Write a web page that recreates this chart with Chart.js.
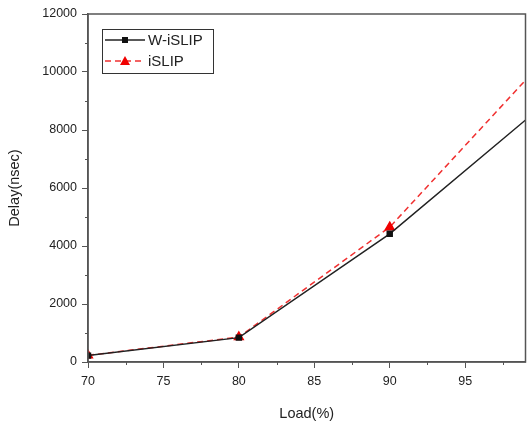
<!DOCTYPE html>
<html>
<head>
<meta charset="utf-8">
<script src="https://cdn.jsdelivr.net/npm/chart.js@4/dist/chart.umd.min.js"></script>
<style>
    html, body { margin: 0; padding: 0; background: #fff; }
    #wrap { width: 532px; height: 437px; }
</style>
</head>
<body>
<div id="wrap"><canvas id="chart" width="532" height="437"></canvas></div>
<script>
// load points (last one lies past the axis end and gets clipped)
var loads = [70, 80, 90, 100];
var wislipDelay = [220, 840, 4420, 8780];
var islipDelay = [230, 860, 4650, 10280];

var xTicks = [70, 75, 80, 85, 90, 95];
var xMinor = [72.5, 77.5, 82.5, 87.5, 92.5, 97.5];
var yTicks = [0, 2000, 4000, 6000, 8000, 10000, 12000];
var yMinor = [1000, 3000, 5000, 7000, 9000, 11000];

var axisColor = '#555';
var textColor = '#222';
var fontFam = '"Liberation Sans", Arial, sans-serif';

function toXY(xs, ys) {
    return xs.map(function (x, i) { return { x: x, y: ys[i] }; });
}

// box around the plot + small minor ticks
const framePlugin = {
    id: 'frame',
    afterDraw: function (chart) {
        const ctx = chart.ctx;
        const a = chart.chartArea;
        const xs = chart.scales.x, ys = chart.scales.y;
        ctx.save();
        ctx.strokeStyle = axisColor;
        ctx.lineWidth = 1.5;
        ctx.strokeRect(a.left, a.top, a.right - a.left, a.bottom - a.top);
        ctx.lineWidth = 1;
        ctx.beginPath();
        xMinor.forEach(function (v) {
            const px = Math.round(xs.getPixelForValue(v)) + 0.5;
            ctx.moveTo(px, a.bottom);
            ctx.lineTo(px, a.bottom + 3);
        });
        yMinor.forEach(function (v) {
            const py = Math.round(ys.getPixelForValue(v)) + 0.5;
            ctx.moveTo(a.left, py);
            ctx.lineTo(a.left - 3, py);
        });
        ctx.stroke();
        ctx.restore();
    }
};

// legend box like the original (line + marker sample)
const legendBox = {
    id: 'legendBox',
    afterDraw: function (chart) {
        const ctx = chart.ctx;
        ctx.save();
        ctx.strokeStyle = '#333';
        ctx.lineWidth = 1;
        ctx.strokeRect(102.5, 29.5, 111, 44);
        ctx.font = '15px ' + fontFam;
        ctx.textBaseline = 'middle';
        ctx.fillStyle = textColor;
        chart.data.datasets.forEach(function (ds, i) {
            const cy = 40 + i * 21;
            ctx.strokeStyle = ds.borderColor;
            ctx.lineWidth = ds.borderWidth;
            ctx.setLineDash(ds.borderDash || []);
            ctx.beginPath();
            ctx.moveTo(105, cy);
            ctx.lineTo(145, cy);
            ctx.stroke();
            ctx.setLineDash([]);
            ctx.fillStyle = ds.pointBackgroundColor;
            if (ds.pointStyle === 'rect') {
                ctx.fillRect(122, cy - 3, 6, 6);
            } else {
                ctx.beginPath();
                ctx.moveTo(125, cy - 5);
                ctx.lineTo(130, cy + 4);
                ctx.lineTo(120, cy + 4);
                ctx.closePath();
                ctx.fill();
            }
            ctx.fillStyle = textColor;
            ctx.fillText(ds.label, 148, cy + 1);
        });
        ctx.restore();
    }
};

const ctx = document.getElementById('chart').getContext('2d');
const chart = new Chart(ctx, {
    type: 'line',
    data: {
        datasets: [{
            label: 'W-iSLIP',
            data: toXY(loads, wislipDelay),
            borderColor: '#222',
            borderWidth: 1.5,
            pointStyle: 'rect',
            pointRadius: 3.5,
            pointBackgroundColor: '#111',
            pointBorderColor: '#111',
            tension: 0
        }, {
            label: 'iSLIP',
            data: toXY(loads, islipDelay),
            borderColor: '#f03030',
            borderWidth: 1.5,
            borderDash: [6, 4],
            pointStyle: 'triangle',
            pointRadius: 5,
            pointBackgroundColor: '#f00000',
            pointBorderColor: '#f00000',
            tension: 0
        }]
    },
    options: {
        responsive: false,
        animation: false,
        layout: { padding: { left: 0, right: 4, top: 14, bottom: 0 } },
        plugins: {
            legend: { display: false },
            tooltip: { enabled: false }
        },
        scales: {
            x: {
                type: 'linear',
                min: 70,
                max: 99,
                afterBuildTicks: function (scale) {
                    scale.ticks = xTicks.map(function (v) { return { value: v }; });
                },
                afterFit: function (scale) { scale.height = 75; },
                border: { display: true, color: axisColor, width: 1.5 },
                grid: { drawOnChartArea: false, tickLength: 6, color: axisColor, lineWidth: 1 },
                ticks: {
                    maxRotation: 0,
                    autoSkip: false,
                    padding: 6,
                    color: textColor,
                    font: { family: fontFam, size: 12.5 },
                    callback: function (v) { return String(v); }
                },
                title: {
                    display: true,
                    text: 'Load(%)',
                    color: textColor,
                    padding: { top: 0, bottom: 14 },
                    font: { family: fontFam, size: 14.5 }
                }
            },
            y: {
                min: 0,
                max: 12000,
                afterBuildTicks: function (scale) {
                    scale.ticks = yTicks.map(function (v) { return { value: v }; });
                },
                afterFit: function (scale) { scale.width = 88; },
                border: { display: true, color: axisColor, width: 1.5 },
                grid: { drawOnChartArea: false, tickLength: 6, color: axisColor, lineWidth: 1 },
                ticks: {
                    autoSkip: false,
                    padding: 5,
                    color: textColor,
                    font: { family: fontFam, size: 12.5 },
                    callback: function (v) { return String(v); }
                },
                title: {
                    display: true,
                    text: 'Delay(nsec)',
                    color: textColor,
                    padding: { top: 6, bottom: 0 },
                    font: { family: fontFam, size: 14.5 }
                }
            }
        }
    },
    plugins: [framePlugin, legendBox]
});
</script>
</body>
</html>
